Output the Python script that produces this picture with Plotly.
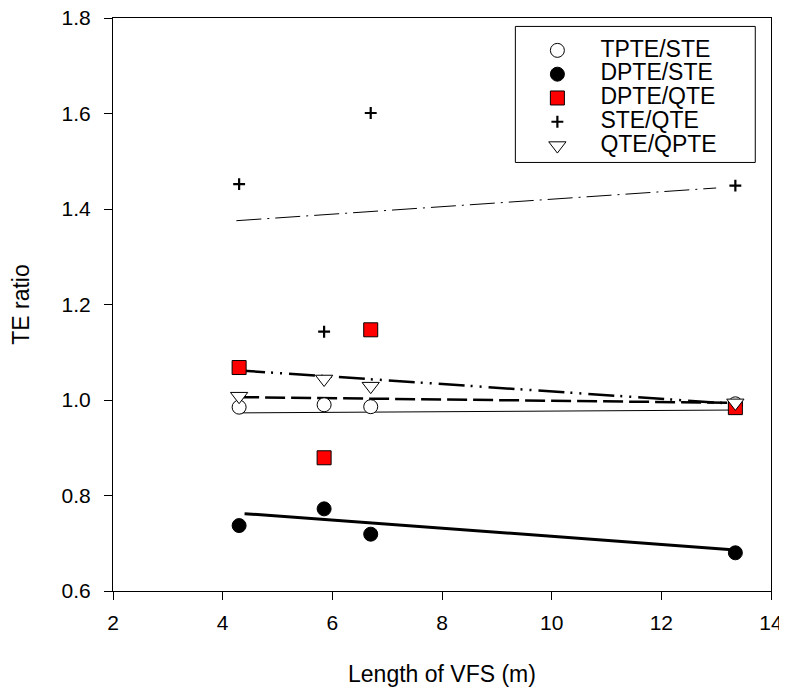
import plotly.graph_objects as go

# ---- data ----
vfs_length = [4.3, 5.85, 6.7, 13.35]
tpte_ste = [0.985, 0.990, 0.986, 0.992]
dpte_ste = [0.737, 0.772, 0.719, 0.680]
dpte_qte = [1.068, 0.879, 1.147, 0.984]
ste_qte = [1.452, 1.143, 1.601, 1.449]
qte_qpte = [1.008, 1.044, 1.029, 0.994]

# regression lines (end points)
fit_x_tpte_ste = [4.3, 13.35]
fit_y_tpte_ste = [0.973, 0.979]
fit_x_dpte_ste = [4.4, 13.35]
fit_y_dpte_ste = [0.762, 0.686]
fit_x_dpte_qte = [4.3, 13.35]
fit_y_dpte_qte = [1.062, 0.992]
fit_x_ste_qte = [4.25, 13.0]
fit_y_ste_qte = [1.3755, 1.444]
fit_x_qte_qpte = [4.3, 13.35]
fit_y_qte_qpte = [1.006, 0.994]

series_names = ["TPTE/STE", "DPTE/STE", "DPTE/QTE", "STE/QTE", "QTE/QPTE"]
x_ticks = [2, 4, 6, 8, 10, 12, 14]
y_ticks = [0.6, 0.8, 1.0, 1.2, 1.4, 1.6, 1.8]

FONT = "Liberation Sans, Arial, sans-serif"

fig = go.Figure()

# regression lines (under the markers)
fig.add_trace(go.Scatter(x=fit_x_tpte_ste, y=fit_y_tpte_ste, mode="lines",
                         line=dict(color="black", width=1), showlegend=False, hoverinfo="skip"))
fig.add_trace(go.Scatter(x=fit_x_dpte_ste, y=fit_y_dpte_ste, mode="lines",
                         line=dict(color="black", width=3), showlegend=False, hoverinfo="skip"))
fig.add_trace(go.Scatter(x=fit_x_dpte_qte, y=fit_y_dpte_qte, mode="lines",
                         line=dict(color="black", width=2.5, dash="26px,6px,2px,7px,2px,7px"),
                         showlegend=False, hoverinfo="skip"))
fig.add_trace(go.Scatter(x=fit_x_ste_qte, y=fit_y_ste_qte, mode="lines",
                         line=dict(color="black", width=1, dash="25px,6px,2px,6px"),
                         showlegend=False, hoverinfo="skip"))
fig.add_trace(go.Scatter(x=fit_x_qte_qpte, y=fit_y_qte_qpte, mode="lines",
                         line=dict(color="black", width=2.5, dash="20px,6px"),
                         showlegend=False, hoverinfo="skip"))

def legname(s):
    return '<span style="font-size:23px">' + s + '</span>'

fig.add_trace(go.Scatter(x=vfs_length, y=tpte_ste, mode="markers", name=legname(series_names[0]),
                         marker=dict(symbol="circle", size=14, color="white",
                                     line=dict(color="black", width=1))))
fig.add_trace(go.Scatter(x=vfs_length, y=dpte_ste, mode="markers", name=legname(series_names[1]),
                         marker=dict(symbol="circle", size=14, color="black",
                                     line=dict(color="black", width=1))))
fig.add_trace(go.Scatter(x=vfs_length, y=dpte_qte, mode="markers", name=legname(series_names[2]),
                         marker=dict(symbol="square", size=14, color="#ff0000",
                                     line=dict(color="black", width=1))))
fig.add_trace(go.Scatter(x=vfs_length, y=ste_qte, mode="markers", name=legname(series_names[3]),
                         marker=dict(symbol="cross-thin", size=8.5, color="black",
                                     line=dict(color="black", width=2.2))))
fig.add_trace(go.Scatter(x=vfs_length, y=qte_qpte, mode="markers", name=legname(series_names[4]),
                         marker=dict(symbol="triangle-down", size=15, color="white",
                                     line=dict(color="black", width=1))))

axis_common = dict(
    showline=True, linecolor="black", linewidth=1, mirror=True,
    ticks="outside", ticklen=8, tickwidth=1, tickcolor="black",
    showgrid=False, zeroline=False, automargin=False,
    ticklabeloverflow="allow",
    tickfont=dict(family=FONT, size=21, color="black"),
)

fig.update_xaxes(range=[2, 14], tickvals=x_ticks, ticktext=[str(v) for v in x_ticks],
                 ticklabelstandoff=5,
                 title=dict(text="Length of VFS (m)", font=dict(family=FONT, size=23, color="black"),
                            standoff=32),
                 **axis_common)
fig.update_yaxes(range=[0.6, 1.8], tickvals=y_ticks, ticktext=["%.1f" % v for v in y_ticks],
                 ticklabelstandoff=9,
                 title=dict(text="TE ratio", font=dict(family=FONT, size=23, color="black"),
                            standoff=25),
                 **axis_common)

fig.add_shape(type="rect", xref="paper", yref="paper",
              x0=0.6115, x1=0.9761, y0=0.7479, y1=0.9853,
              line=dict(color="black", width=1), fillcolor="rgba(0,0,0,0)")

fig.update_layout(
    width=779, height=686,
    margin=dict(l=104.5, r=16.3, t=10.3, b=103, autoexpand=False),
    paper_bgcolor="white", plot_bgcolor="white",
    font=dict(family=FONT, color="black"),
    showlegend=True,
    legend=dict(x=0.610, y=0.973, xanchor="left", yanchor="top",
                bgcolor="rgba(0,0,0,0)", borderwidth=0,
                font=dict(family=FONT, size=16, color="black"),
                itemwidth=76, tracegroupgap=0),
)

fig.write_html("out.html")
